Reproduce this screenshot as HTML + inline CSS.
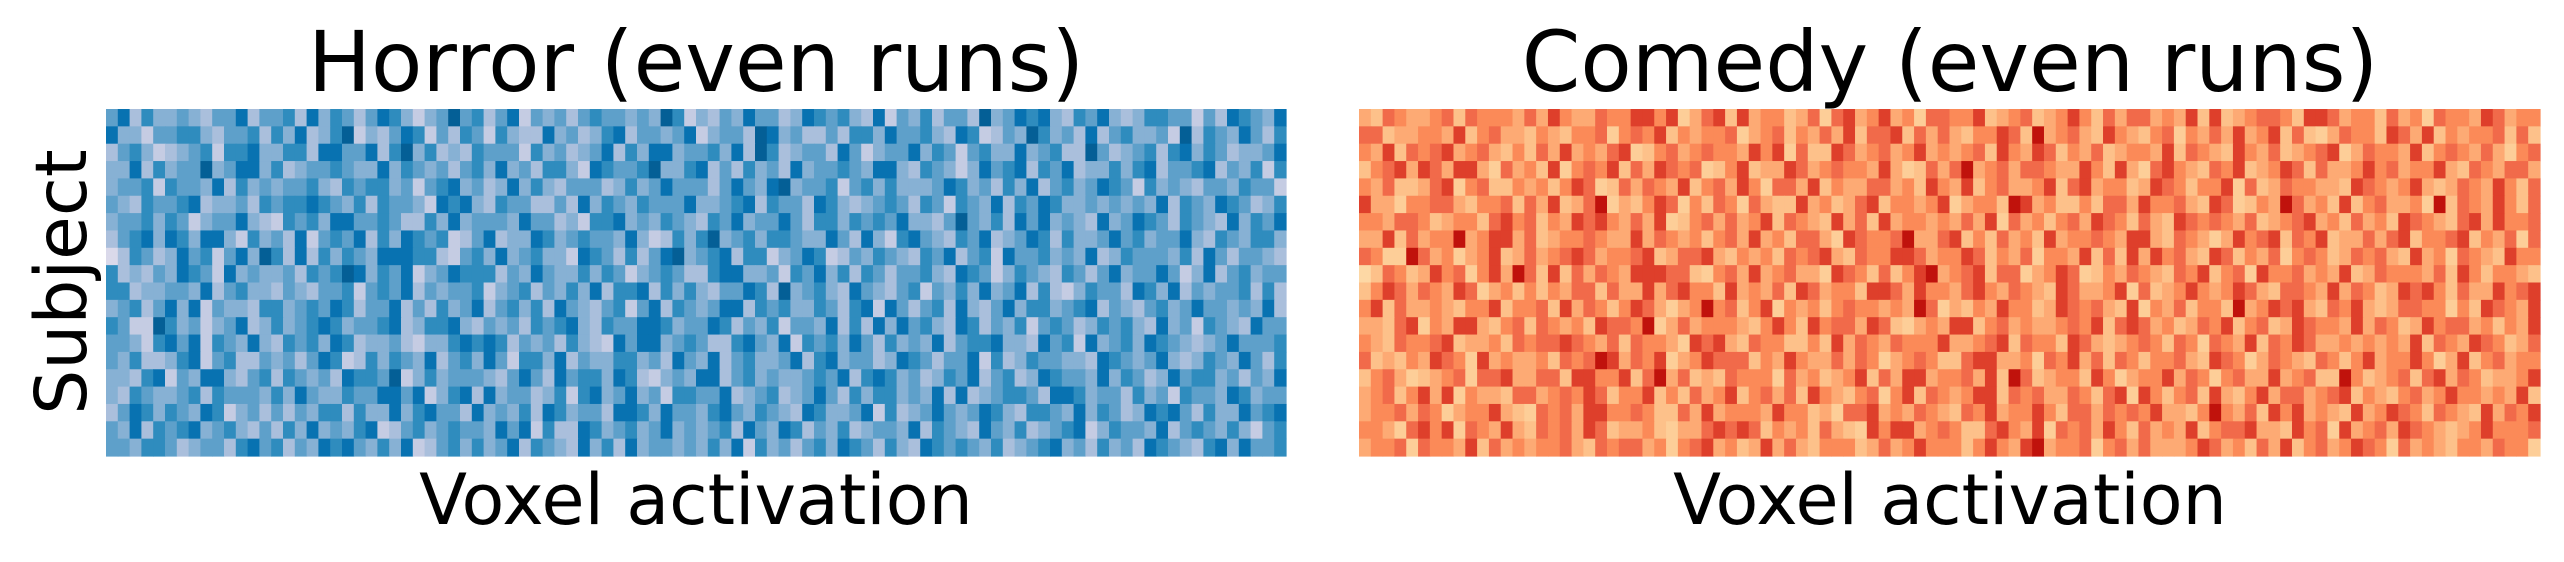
<!DOCTYPE html>
<html><head><meta charset="utf-8">
<style>
html,body{margin:0;padding:0;background:#fff;}
body{width:2564px;height:562px;overflow:hidden;position:relative;font-family:"DejaVu Sans","Liberation Sans",sans-serif;}
svg{position:absolute;left:0;top:0;}
</style></head>
<body>
<svg id="fig" width="2564" height="562">
<text x="696" y="91" font-size="84" text-anchor="middle">Horror (even runs)</text>
<text x="1950" y="91" font-size="84" text-anchor="middle">Comedy (even runs)</text>
<text x="696" y="524" font-size="70" text-anchor="middle">Voxel activation</text>
<text x="1950" y="524" font-size="70" text-anchor="middle">Voxel activation</text>
<text x="86" y="282" font-size="71" text-anchor="middle" transform="rotate(-90 86 282)">Subject</text>
<g id="horror"></g>
<g id="comedy"></g>
</svg>
<script>
// Estimated activation levels (0-9) per subject row, 100 voxels each
const horrorRows = [
"5736445435573556374653576424585635725453565545486243547553476564372546355384576743657434665525376547",
"7442556643556364734682435762536526433745346735545724553874533536647556437623548645373564452836547536",
"3564234562667446637755736846343655526453457364774556473863455375245574652564474563385345636746534457",
"4473645584577463455654474654535647453664276556844673536453745565477436542475673657344646735567354626",
"4556265547364545564365664525674534746435553464575553575478455625646444576453647356457652645435546552",
"5436556734453656676546365542767436553353746546555744567365537643456536526547365764454545473654765346",
"4556465245574326564775565336474555475534266745465436574557536646565744358546375745437457653654374657",
"3567476477426453725657364765623573447645655474236468456466544753742675436573457636445756455743654664",
"1365347562574863736465477766325647456442765363578456736624576235465436573562755645473465554637535543",
"6343547652745445365687465724576663547544646524565336774452657463653556437652465436535745575247356455",
"6634455473564435435562565735455624563546473667364643557638456437543562546474573632465537647354556363",
"4563574725443664565763557353645735646375435625736545773656446536727535637435746645673543564575545473",
"6522864524573464567645567346674354536567436557764557635462554736374756437635462565346564374526543755",
"5542675726547436564763445324467676354536432757745653367547265647536454735667443756274564765434575556",
"5463346725633545357623646547356475266473544664537547356445736745534765355726346554437654574346547536",
"4436725477435636545376658246455543575375664763245477356454456573676453465735634765547465347566453547",
"4365445636555464754465577572467374553462674574526655734563457536466454737345665377645536452655476455",
"3576465476245353546636447467553745463764553776475546754654376445726345754576436654746534767536447567",
"5473656745643536474546723564565547572633764564574545637547635463455473654375463456724655473565464256",
"5546653455367563547675464723564645736543746374554546472645356476536437656546345674536453765436747556"
];
const comedyRows = [
"4365445636555464754465577572467374553462674574526655734563457536466454737345665377645536452655476455",
"6634455473564435435562565735455624563546473667364643557638456437543562546474573632465537647354556363",
"5473656745643536474546723564565547572633764564574545637547635463455473654375463456724655473565464256",
"3567476477426453725657364765623573447645655474236468456466544753742675436573457636445756455743654664",
"5463346725633545357623646547356475266473544664537547356445736745534765355726346554437654574346547536",
"7442556643556364734682435762536526433745346735545724553874533536647556437623548645373564452836547536",
"5546653455367563547675464723564645736543746374554546472645356476536437656546345674536453765436747556",
"4473645584577463455654474654535647453664276556844673536453745565477436542475673657344646735567354626",
"6522864524573464567645567346674354536567436557764557635462554736374756437635462565346564374526543755",
"1365347562574863736465477766325647456442765363578456736624576235465436573562755645473465554637535543",
"3576465476245353546636447467553745463764553776475546754654376445726345754576436654746534767536447567",
"5736445435573556374653576424585635725453565545486243547553476564372546355384576743657434665525376547",
"4436725477435636545376658246455543575375664763245477356454456573676453465735634765547465347566453547",
"5436556734453656676546365542767436553353746546555744567365537643456536526547365764454545473654765346",
"6343547652745445365687465724576663547544646524565336774452657463653556437652465436535745575247356455",
"3564234562667446637755736846343655526453457364774556473863455375245574652564474563385345636746534457",
"4563574725443664565763557353645735646375435625736545773656446536727535637435746645673543564575545473",
"4556465245574326564775565336474555475534266745465436574557536646565744358546375745437457653654374657",
"5542675726547436564763445324467676354536432757745653367547265647536454735667443756274564765434575556",
"4556265547364545564365664525674534746435553464575553575478455625646444576453647356457652645435546552"
];
const nRows = 20, nCols = 100;
const PuBu = ["#fff7fb","#ece7f2","#d0d1e6","#a6bddb","#74a9cf","#3690c0","#0570b0","#045a8d","#023858"];
const OrRd = ["#fff7ec","#fee8c8","#fdd49e","#fdbb84","#fc8d59","#ef6548","#d7301f","#b30000","#7f0000"];
function hex(c){return [1,3,5].map(i=>parseInt(c.substr(i,2),16));}
function cmap(stops,t){
  t=Math.max(0,Math.min(1,t));
  const p=t*(stops.length-1), i=Math.min(stops.length-2,Math.floor(p)), f=p-i;
  const a=hex(stops[i]), b=hex(stops[i+1]);
  return "rgb("+a.map((v,k)=>Math.round(v+(b[k]-v)*f)).join(",")+")";
}
function blueT(d){return 0.15 + 0.8*Math.pow(d/9,1.2);}
function redT(d){return 0.2 + 0.75*Math.pow(d/9,1.5);}
const NS="http://www.w3.org/2000/svg";
function draw(gid, rows, stops, tf, x0, x1, y0, y1){
  const g=document.getElementById(gid);
  const xs=c=>x0+(x1-x0)*c/nCols;
  const ys=r=>y0+(y1-y0)*r/nRows;
  for(let r=0;r<nRows;r++){
    const row=rows[r];
    for(let c=0;c<nCols;c++){
      const d=+row[c];
      const el=document.createElementNS(NS,"rect");
      
      
      el.setAttribute("x",xs(c));
      el.setAttribute("y",ys(r));
      el.setAttribute("width",xs(c+1)-xs(c)+0.6);
      el.setAttribute("height",ys(r+1)-ys(r)+0.6);
      el.setAttribute("fill",cmap(stops,tf(d)));
      g.appendChild(el);
    }
  }
}
draw("horror",horrorRows,PuBu,blueT,106,1286,109,456);
draw("comedy",comedyRows,OrRd,redT,1359,2540,109,456);
</script>
</body></html>
